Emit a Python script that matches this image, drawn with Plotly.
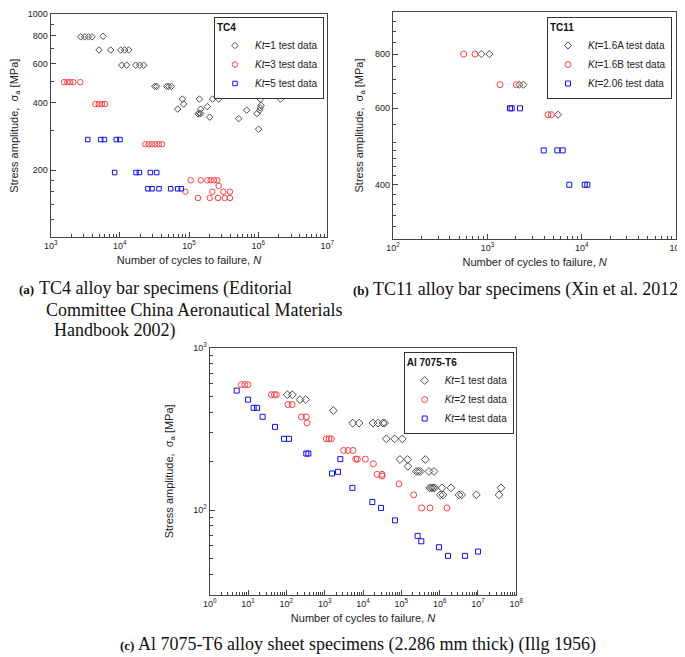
import numpy as np
import plotly.graph_objects as go

# ---- (a) TC4 ----
tc4_kt1_n = [2720, 3100, 3510, 3960, 5720,
             5000, 7370, 10300, 11750, 13420,
             10640, 12560, 16950, 19360, 22120,
             31900, 34100, 47600, 50800, 55600,
             80200, 141000, 219700, 268500, 1074000, 2113000,
             83800, 184000, 1100000, 68500, 147500, 682000, 1070000, 1050000,
             135000, 141000, 147500, 199000, 523000, 962000, 1016000]
tc4_kt1_s = [790, 790, 790, 790, 795,
             690, 690, 690, 690, 690,
             590, 590, 590, 590, 590,
             474, 474, 474, 474, 474,
             416, 416, 416, 416, 416, 416,
             395, 385, 390, 375, 375, 371, 380, 370,
             357, 360, 358, 345, 340, 358, 305]

tc4_kt3_n = [1560, 1742, 1905, 2127, 2684,
             4430, 4945, 5520, 6105,
             23400, 26100, 29200, 32600, 36400, 40700,
             105700, 147500, 184200, 205700, 229700, 256900,
             268500,
             88500, 217300, 313200, 391400,
             135000, 199000, 262500, 328000, 391400]
tc4_kt3_s = [495, 495, 495, 495, 495,
             395, 395, 395, 395,
             261, 261, 261, 261, 261, 261,
             180, 180, 180, 180, 180, 180,
             170,
             160, 160, 160, 160,
             150, 150, 150, 150, 150]

tc4_kt5_n = [3430, 5280, 5970, 8890, 10040,
             8410, 17130, 19140, 27600, 34100,
             25500, 29200, 36800, 54300, 68500, 77500]
tc4_kt5_s = [274, 274, 274, 274, 274,
             195, 195, 195, 195, 195,
             165, 165, 165, 165, 165, 165]

# ---- (b) TC11 ----
tc11_a_n = [861, 1047, 2178, 2400, 5585]
tc11_a_s = [800, 800, 680, 680, 580]
tc11_b_n = [560, 738, 1358, 2024, 4375, 4750]
tc11_b_s = [800, 800, 680, 680, 580, 580]
tc11_c_n = [1734, 1806, 2213, 3945, 5495, 6265, 7362, 10720, 11420]
tc11_c_s = [600, 600, 600, 480, 480, 480, 400, 400, 400]

# ---- (c) Al 7075-T6 ----
al_kt1_n = [106, 143, 227, 319, 1683, 5370, 7870, 18200, 24600, 33200, 36700,
            40600, 67000, 106000, 92300, 146000, 423000, 149000,
            246000, 278000, 313000, 527000, 711000,
            548000, 607000, 670000, 741000, 1150000, 1980000,
            1040000, 1220000, 3190000, 3750000, 9060000, 35300000, 39800000]
al_kt1_s = [515, 515, 480, 480, 411, 344, 344, 344, 344, 344, 344,
            275, 275, 275, 205, 205, 205, 186,
            173, 173, 173, 173, 173,
            137, 137, 137, 137, 137, 137,
            124, 124, 124, 124, 124, 124, 137]

al_kt2_n = [6.7, 8.2, 10, 40.6, 48.7, 54.8, 110, 141, 246, 332, 346,
            1100, 1300, 1490, 3130, 4060, 5490, 6440, 7110, 11500, 18600,
            23200, 31300, 31300, 86900, 210000, 339000, 560000, 1550000]
al_kt2_s = [594, 594, 594, 515, 515, 515, 448, 448, 376, 376, 345,
            275, 275, 275, 233, 233, 233, 206, 206, 206, 193,
            166, 166, 162, 145, 124, 103, 103, 103]

al_kt4_n = [5.06, 10, 14, 17.2, 24, 50.6, 87, 117, 332, 375, 2563, 2228, 1553,
            5270, 17500, 29500, 68400, 267000, 332000, 961000, 1650000,
            4580000, 10000000]
al_kt4_s = [546, 480, 427, 427, 376, 326, 275, 275, 223, 223, 206, 172, 168,
            137, 112, 103, 86.3, 69.2, 64.1, 58.9, 52.1, 52.1, 55.4]

GRAY = '#505050'
RED = '#ff4040'
BLUE = '#1010ff'
W, H = 685, 657
FONT = 'Liberation Sans, Arial, sans-serif'
SERIF = 'Liberation Serif, Times New Roman, serif'


def px(x0, x1):
    return [x0 / W, x1 / W]


def py(top, bottom):
    return [1 - bottom / H, 1 - top / H]


fig = go.Figure()


def add(n, s, name, sym, color, size, xa, ya, leg):
    fig.add_trace(go.Scatter(
        x=n, y=s, mode='markers', name=name,
        xaxis=xa, yaxis=ya, legend=leg,
        marker=dict(symbol=sym, size=size, color=color,
                    line=dict(width=1))))


add(tc4_kt1_n, tc4_kt1_s, '<i>Kt</i>=1 test data', 'diamond-open', GRAY, 5, 'x', 'y', 'legend')
add(tc4_kt3_n, tc4_kt3_s, '<i>Kt</i>=3 test data', 'circle-open', RED, 5.5, 'x', 'y', 'legend')
add(tc4_kt5_n, tc4_kt5_s, '<i>Kt</i>=5 test data', 'square-open', BLUE, 4.5, 'x', 'y', 'legend')

add(tc11_a_n, tc11_a_s, '<i>Kt</i>=1.6A test data', 'diamond-open', GRAY, 5.5, 'x2', 'y2', 'legend2')
add(tc11_b_n, tc11_b_s, '<i>Kt</i>=1.6B test data', 'circle-open', RED, 6, 'x2', 'y2', 'legend2')
add(tc11_c_n, tc11_c_s, '<i>Kt</i>=2.06 test data', 'square-open', BLUE, 5, 'x2', 'y2', 'legend2')

add(al_kt1_n, al_kt1_s, '<i>Kt</i>=1 test data', 'diamond-open', GRAY, 6, 'x3', 'y3', 'legend3')
add(al_kt2_n, al_kt2_s, '<i>Kt</i>=2 test data', 'circle-open', RED, 6, 'x3', 'y3', 'legend3')
add(al_kt4_n, al_kt4_s, '<i>Kt</i>=4 test data', 'square-open', BLUE, 5, 'x3', 'y3', 'legend3')

xtitle = 'Number of cycles to failure, <i>N</i>'
ytitle = 'Stress amplitude,  σ<sub>a</sub> [MPa]'


def minor_log(lo, hi):
    v = []
    for e in range(lo, hi):
        v += [k * 10 ** e for k in range(2, 10)]
    return v


def pow_ticks(lo, hi):
    vals = [10 ** e for e in range(lo, hi + 1)]
    text = ['10<sup>%d</sup>' % e for e in range(lo, hi + 1)]
    return dict(tickmode='array', tickvals=vals, ticktext=text)


MINOR = dict(ticks='inside', ticklen=3, tickcolor='#444')


def axis(domain, anchor, rng, title, standoff, **kw):
    d = dict(type='log', domain=domain, anchor=anchor, range=rng,
             showline=True, linecolor='#444', linewidth=1.2, mirror=True,
             showgrid=False, zeroline=False, automargin=False,
             ticks='inside', ticklen=5, tickcolor='#444',
             tickfont=dict(family=FONT, size=9, color='#222'),
             title=dict(text=title, standoff=standoff,
                        font=dict(family=FONT, size=11, color='#222')))
    d.update(kw)
    return d


fig.update_layout(
    width=W, height=H, margin=dict(l=0, r=0, t=0, b=0),
    paper_bgcolor='white', plot_bgcolor='white', showlegend=True,
    xaxis=axis(px(42.7, 319.3), 'y', [3, 7], xtitle, 6,
               minor=dict(tickvals=minor_log(3, 7), **MINOR), **pow_ticks(3, 7)),
    yaxis=axis(py(6, 229.3), 'x', [2, 3], ytitle, 11,
               tickmode='array', tickvals=[200, 400, 600, 800, 1000],
               ticktext=['200', '400', '600', '800', '1000'],
               minor=dict(tickvals=[120, 140, 160, 180, 300, 500, 700, 900], **MINOR)),
    xaxis2=axis(px(385, 668.3), 'y2', [2, 5], xtitle, 6,
                minor=dict(tickvals=minor_log(2, 5), **MINOR), **pow_ticks(2, 5)),
    yaxis2=axis(py(4, 231), 'x2', [np.log10(300), 3], ytitle, 9,
                tickmode='array', tickvals=[400, 600, 800, 1000],
                ticktext=['400', '600', '800', '1000'],
                minor=dict(tickvals=[320, 340, 360, 380, 420, 440, 460, 480,
                                     500, 550, 650, 700, 750, 850, 900, 950], **MINOR)),
    xaxis3=axis(px(201.7, 508.3), 'y3', [0, 8], xtitle, 6,
                minor=dict(tickvals=minor_log(0, 8), **MINOR), **pow_ticks(0, 8)),
    yaxis3=axis(py(340, 586.7), 'x3', [np.log10(30), 3], ytitle, 17,
                minor=dict(tickvals=minor_log(1, 3), **MINOR), **pow_ticks(2, 3)),
)

legend_style = dict(bgcolor='white', bordercolor='#333', borderwidth=1,
                    font=dict(family=FONT, size=10, color='#222'),
                    xanchor='right', yanchor='top', tracegroupgap=0)
fig.update_layout(
    legend=dict(x=316 / W, y=1 - 9 / H,
                title=dict(text='<b>TC4</b>', font=dict(family=FONT, size=10, color='#111')),
                **legend_style),
    legend2=dict(x=664 / W, y=1 - 9 / H,
                 title=dict(text='<b>TC11</b>', font=dict(family=FONT, size=10, color='#111')),
                 **legend_style),
    legend3=dict(x=505.7 / W, y=1 - 344 / H,
                 title=dict(text='<b>Al 7075-T6</b>', font=dict(family=FONT, size=10, color='#111')),
                 **legend_style),
)


def cap(text, x, y, anchor='left', size=18, bold=False):
    fig.add_annotation(text='<b>%s</b>' % text if bold else text,
                       x=x / W, y=1 - y / H, xref='paper', yref='paper',
                       xanchor=anchor, yanchor='middle', showarrow=False,
                       borderpad=0, font=dict(family=SERIF, size=size, color='#111'))


cap('(a)', 27, 281, 'right', 13, True)
cap('TC4 alloy bar specimens (Editorial', 29.5, 280)
cap('Committee China Aeronautical Materials', 36.7, 302)
cap('Handbook 2002)', 45, 322)
cap('(b)', 362, 282, 'right', 13, True)
cap('TC11 alloy bar specimens (Xin et al. 2012)', 364, 281)
cap('(c)', 127, 637, 'right', 13, True)
cap('Al 7075-T6 alloy sheet specimens (2.286 mm thick) (Illg 1956)', 129, 636)

fig.write_html("out.html")
